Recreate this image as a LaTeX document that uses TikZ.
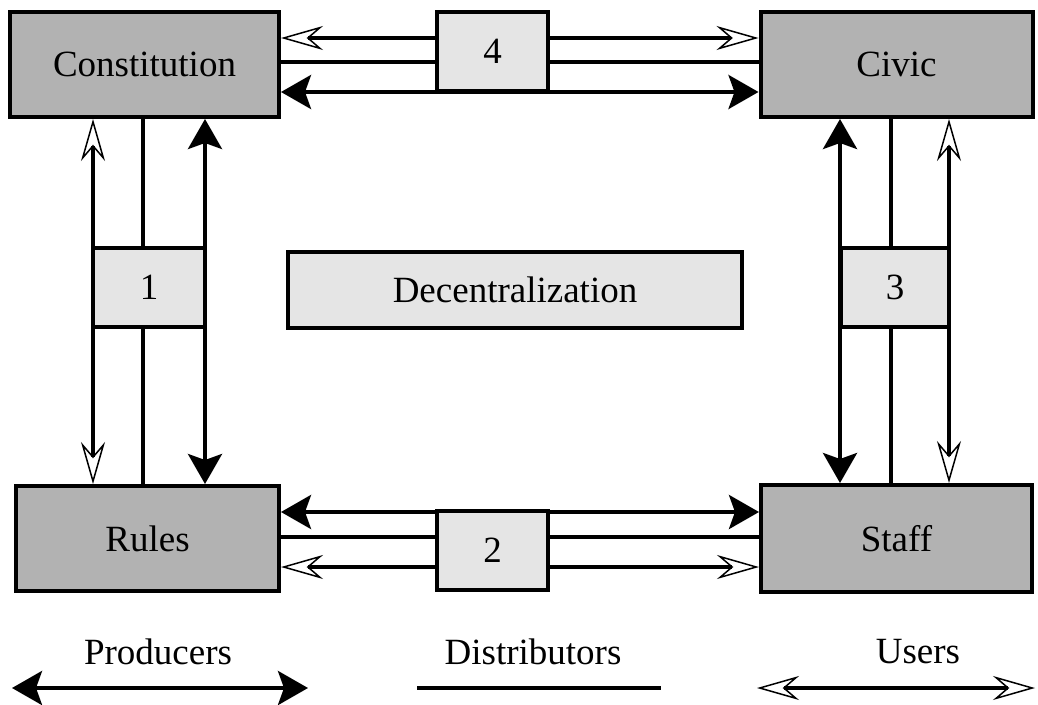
\documentclass[tikz,border=0pt]{standalone}
\usepackage{fontspec}
\setmainfont{Liberation Serif}
\usetikzlibrary{arrows.meta,backgrounds}
\definecolor{boxgray}{gray}{0.70}
\definecolor{gategray}{gray}{0.90}
\begin{document}
\begin{tikzpicture}[x=1pt,y=-1pt,font=\fontsize{37}{40}\selectfont,
    unit/.style={draw,line width=4pt,fill=boxgray,inner sep=0pt},
    gate/.style={draw,line width=4pt,fill=gategray,inner sep=0pt},
    link/.style={line width=4pt},
    solidway/.style={link,{Stealth[length=30pt,width=34pt,inset=6pt]}-{Stealth[length=30pt,width=34pt,inset=6pt]}},
    openway/.style={link,{Stealth[open,length=42pt,width=24pt,inset=14pt,line width=1.5pt]}-{Stealth[open,length=42pt,width=24pt,inset=14pt,line width=1.5pt]}}]

      \useasboundingbox (0,0) rectangle (1038,704);

      \begin{scope}[every node/.style={unit,minimum height=105}]
        \node[minimum width=269] (cons)  at (144.5,64.5)  {Constitution};
        \node[minimum width=272] (civic) at (896.5,64.5)  {Civic};
        \node[minimum width=263] (rules) at (147.5,538.5) {Rules};
        \node[minimum width=271,minimum height=107] (staff) at (896.5,538.5) {Staff};
      \end{scope}

      \begin{scope}[every node/.style={gate,minimum height=79}]
        \node[minimum width=111] (four)   at (492.5,51)    {4};
        \node[minimum width=112] (one)    at (149,287)     {1};
        \node[minimum width=454,minimum height=76] (decent) at (515,290) {Decentralization};
        \node[minimum width=108] (three)  at (895,287)     {3};
        \node[minimum width=111] (two)    at (492.5,550.5) {2};
      \end{scope}

      \begin{scope}[on background layer]
        % top
        \draw[openway]  ([yshift=26.5pt]cons.east) -- ([yshift=26.5pt]civic.west);
        \draw[link]     ([yshift=2.5pt]cons.east)  -- ([yshift=2.5pt]civic.west);
        \draw[solidway] ([yshift=-27.5pt]cons.east) -- ([yshift=-27.5pt]civic.west);
        % bottom
        \draw[solidway] ([yshift=26.5pt]rules.east) -- ([yshift=26.5pt]staff.west);
        \draw[link]     ([yshift=1.5pt]rules.east)  -- ([yshift=1.5pt]staff.west);
        \draw[openway]  ([yshift=-28.5pt]rules.east) -- ([yshift=-28.5pt]staff.west);
        % left
        \draw[openway]  ([xshift=-51.5pt]cons.south) -- ([xshift=-51.5pt]cons.south |- rules.north);
        \draw[link]     ([xshift=-1.5pt]cons.south)  -- ([xshift=-1.5pt]cons.south |- rules.north);
        \draw[solidway] ([xshift=60.5pt]cons.south)  -- ([xshift=60.5pt]cons.south |- rules.north);
        % right
        \draw[solidway] ([xshift=-56.5pt]civic.south) -- ([xshift=-56.5pt]civic.south |- staff.north);
        \draw[link]     ([xshift=-5.5pt]civic.south)  -- ([xshift=-5.5pt]civic.south |- staff.north);
        \draw[openway]  ([xshift=52.5pt]civic.south)  -- ([xshift=52.5pt]civic.south |- staff.north);
      \end{scope}

      % legend
      \node (prod)  at (158,652) {Producers};
      \node (dist)  at (533,652) {Distributors};
      \node (users) at (918,652) {Users};
      \coordinate (p1) at (12,688);
      \coordinate (p2) at (308,688);
      \coordinate (d1) at (417,688);
      \coordinate (d2) at (661,688);
      \coordinate (u1) at (757,688);
      \coordinate (u2) at (1035,688);
      \draw[solidway] (p1) -- (p2);
      \draw[link]     (d1) -- (d2);
      \draw[openway]  (u1) -- (u2);

    \end{tikzpicture}
\end{document}
